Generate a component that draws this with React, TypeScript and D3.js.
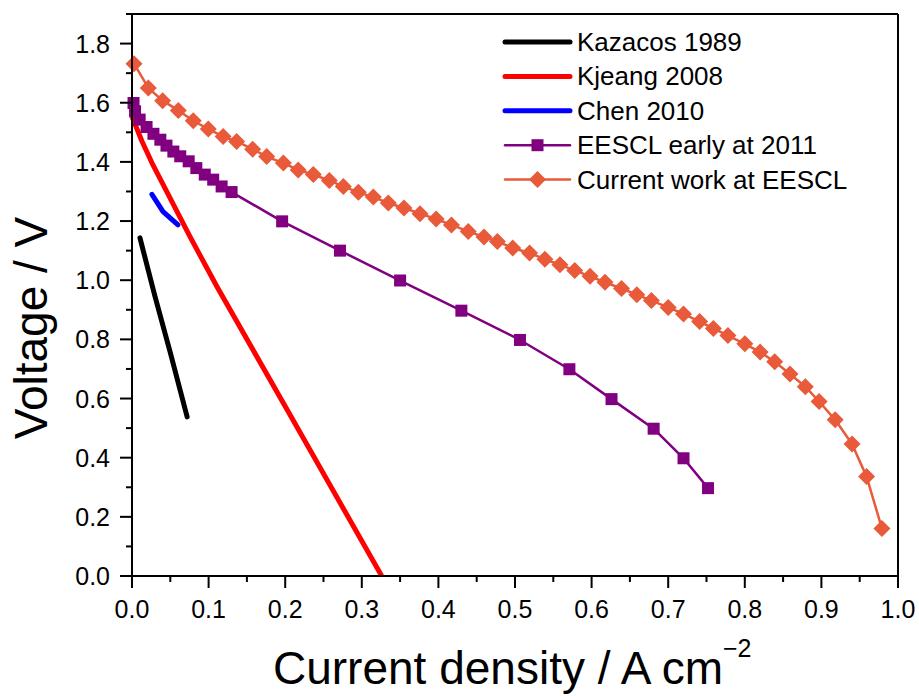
import React from "react";
import * as d3 from "d3";

const W = 919;
const H = 696;

// ---- data ----
const kazacosI = [0.0104, 0.03, 0.05, 0.072];
const kazacosV = [1.143, 0.945, 0.755, 0.538];

const kjeangI = [0.0, 0.013, 0.026, 0.0757, 0.111, 0.21, 0.326];
const kjeangV = [1.553, 1.47, 1.397, 1.147, 0.978, 0.528, 0.0];

const chenI = [0.026, 0.0405, 0.06];
const chenV = [1.29, 1.232, 1.187];

const eesclI = [0.002, 0.004, 0.01, 0.019, 0.028, 0.037, 0.045, 0.054, 0.063, 0.074, 0.084, 0.095, 0.106, 0.117, 0.13,
  0.196, 0.2715, 0.35, 0.43, 0.5065, 0.571, 0.626, 0.681, 0.72, 0.752];
const eesclV = [1.599, 1.571, 1.543, 1.518, 1.495, 1.475, 1.455, 1.435, 1.419, 1.402, 1.379, 1.357, 1.34, 1.317, 1.298,
  1.199, 1.1, 0.999, 0.897, 0.798, 0.699, 0.598, 0.498, 0.398, 0.297];

const currentI = [0.0026, 0.0213, 0.04, 0.0605, 0.08, 0.0996, 0.119, 0.1366, 0.1575, 0.1758, 0.1976, 0.217, 0.2367, 0.2576,
  0.2759, 0.2955, 0.315, 0.3346, 0.355, 0.376, 0.397, 0.417, 0.439, 0.4595, 0.477, 0.497, 0.519, 0.539, 0.5587, 0.578,
  0.598, 0.6175, 0.639, 0.659, 0.678, 0.7, 0.72, 0.741, 0.759, 0.778, 0.8, 0.82, 0.839, 0.859, 0.879, 0.897, 0.918, 0.94,
  0.959, 0.979];
const currentV = [1.732, 1.65, 1.607, 1.574, 1.539, 1.511, 1.486, 1.469, 1.443, 1.418, 1.396, 1.373, 1.357, 1.337,
  1.317, 1.297, 1.281, 1.261, 1.244, 1.225, 1.207, 1.187, 1.165, 1.146, 1.131, 1.109, 1.092, 1.071, 1.052, 1.033,
  1.013, 0.993, 0.972, 0.951, 0.931, 0.908, 0.886, 0.86, 0.837, 0.813, 0.785, 0.757, 0.724, 0.683, 0.64, 0.59, 0.528, 0.446,
  0.336, 0.161];

const xTickValues = [0, 0.1, 0.2, 0.3, 0.4, 0.5, 0.6, 0.7, 0.8, 0.9, 1.0];
const xMinorValues = [0.05, 0.15, 0.25, 0.35, 0.45, 0.55, 0.65, 0.75, 0.85, 0.95];
const yTickValues = [0, 0.2, 0.4, 0.6, 0.8, 1.0, 1.2, 1.4, 1.6, 1.8];
const yMinorValues = [0.1, 0.3, 0.5, 0.7, 0.9, 1.1, 1.3, 1.5, 1.7, 1.9];

const legendLabels = ["Kazacos 1989", "Kjeang 2008", "Chen 2010", "EESCL early at 2011", "Current work at EESCL"];

const BLACK = "#000000";
const RED = "#FF0000";
const BLUE = "#0000FF";
const PURPLE = "#800080";
const ORANGE = "#E85A3A";

const FONT = "'Liberation Sans', Arial, Helvetica, sans-serif";

export default function App() {
  const left = 132, right = 898, top = 14, bottom = 576;
  const x = d3.scaleLinear().domain([0, 1]).range([left, right]);
  const y = d3.scaleLinear().domain([0, 1.9]).range([bottom, top]);

  const line = d3
    .line<[number, number]>()
    .x((d) => x(d[0]))
    .y((d) => y(d[1]));

  const zip = (a: number[], b: number[]) => a.map((v, i) => [v, b[i]] as [number, number]);

  const kaz = zip(kazacosI, kazacosV);
  const kje = zip(kjeangI, kjeangV);
  const che = zip(chenI, chenV);
  const ees = zip(eesclI, eesclV);
  const cur = zip(currentI, currentV);

  const sq = 12;
  const dm = 8.5;
  const diamond = (cx: number, cy: number, r: number) =>
    `M${cx},${cy - r}L${cx + r},${cy}L${cx},${cy + r}L${cx - r},${cy}Z`;

  const legendX1 = 505, legendX2 = 570, legendTextX = 577, legendTop = 42, legendStep = 34.4;
  const legendStyles = [
    { color: BLACK, w: 5, marker: "none" },
    { color: RED, w: 5, marker: "none" },
    { color: BLUE, w: 5, marker: "none" },
    { color: PURPLE, w: 2.5, marker: "square" },
    { color: ORANGE, w: 2.5, marker: "diamond" },
  ];

  return (
    <svg width={W} height={H} style={{ position: "absolute", left: 0, top: 0, background: "#fff" }} fontFamily={FONT}>
      <rect x={0} y={0} width={W} height={H} fill="#fff" />

      {/* series */}
      <path d={line(kaz) || ""} fill="none" stroke={BLACK} strokeWidth={5} strokeLinecap="round" strokeLinejoin="round" />
      <path d={line(kje) || ""} fill="none" stroke={RED} strokeWidth={5} strokeLinecap="butt" strokeLinejoin="round" />
      <path d={line(che) || ""} fill="none" stroke={BLUE} strokeWidth={5} strokeLinecap="round" strokeLinejoin="round" />

      <path d={line(ees) || ""} fill="none" stroke={PURPLE} strokeWidth={2.5} strokeLinejoin="round" />
      {ees.map((d, i) => (
        <rect key={"s" + i} x={x(d[0]) - sq / 2} y={y(d[1]) - sq / 2} width={sq} height={sq} fill={PURPLE} />
      ))}

      <path d={line(cur) || ""} fill="none" stroke={ORANGE} strokeWidth={2.5} strokeLinejoin="round" />
      {cur.map((d, i) => (
        <path key={"d" + i} d={diamond(x(d[0]), y(d[1]), dm)} fill={ORANGE} />
      ))}

      {/* frame */}
      <g stroke="#000" strokeWidth={2} fill="none">
        <line x1={left} y1={top} x2={right} y2={top} />
        <line x1={right} y1={top} x2={right} y2={bottom} />
        <line x1={left} y1={bottom} x2={right} y2={bottom} />
        <line x1={left} y1={top} x2={left} y2={bottom} />
        {xTickValues.map((v) => (
          <line key={"xt" + v} x1={x(v)} x2={x(v)} y1={bottom} y2={bottom + 12} />
        ))}
        {xMinorValues.map((v) => (
          <line key={"xm" + v} x1={x(v)} x2={x(v)} y1={bottom} y2={bottom + 6} />
        ))}
        {yTickValues.map((v) => (
          <line key={"yt" + v} x1={left - 12} x2={left} y1={y(v)} y2={y(v)} />
        ))}
        {yMinorValues.map((v) => (
          <line key={"ym" + v} x1={left - 6} x2={left} y1={y(v)} y2={y(v)} />
        ))}
      </g>

      {/* tick labels */}
      {xTickValues.map((v) => (
        <text key={"xl" + v} x={x(v)} y={618} fontSize={25} textAnchor="middle" fill="#000">
          {v.toFixed(1)}
        </text>
      ))}
      {yTickValues.map((v) => (
        <text key={"yl" + v} x={110} y={y(v) + 9} fontSize={25} textAnchor="end" fill="#000">
          {v.toFixed(1)}
        </text>
      ))}

      {/* axis titles */}
      <text x={273} y={684} fontSize={46} fill="#000">
        Current density / A cm
        <tspan fontSize={25} dy={-27}>
          −2
        </tspan>
      </text>
      <text transform="translate(47,328) rotate(-90)" fontSize={46} textAnchor="middle" fill="#000">
        Voltage / V
      </text>

      {/* legend */}
      {legendLabels.map((lab, i) => {
        const ly = legendTop + i * legendStep;
        const st = legendStyles[i];
        const mx = (legendX1 + legendX2) / 2;
        return (
          <g key={"lg" + i}>
            <line x1={legendX1} x2={legendX2} y1={ly} y2={ly} stroke={st.color} strokeWidth={st.w === 5 ? 5 : 2.5} strokeLinecap="round" />
            {st.marker === "square" && <rect x={mx - sq / 2} y={ly - sq / 2} width={sq} height={sq} fill={st.color} />}
            {st.marker === "diamond" && <path d={diamond(mx, ly, dm)} fill={st.color} />}
            <text x={legendTextX} y={ly + 9} fontSize={26} fill="#000">
              {lab}
            </text>
          </g>
        );
      })}
    </svg>
  );
}
